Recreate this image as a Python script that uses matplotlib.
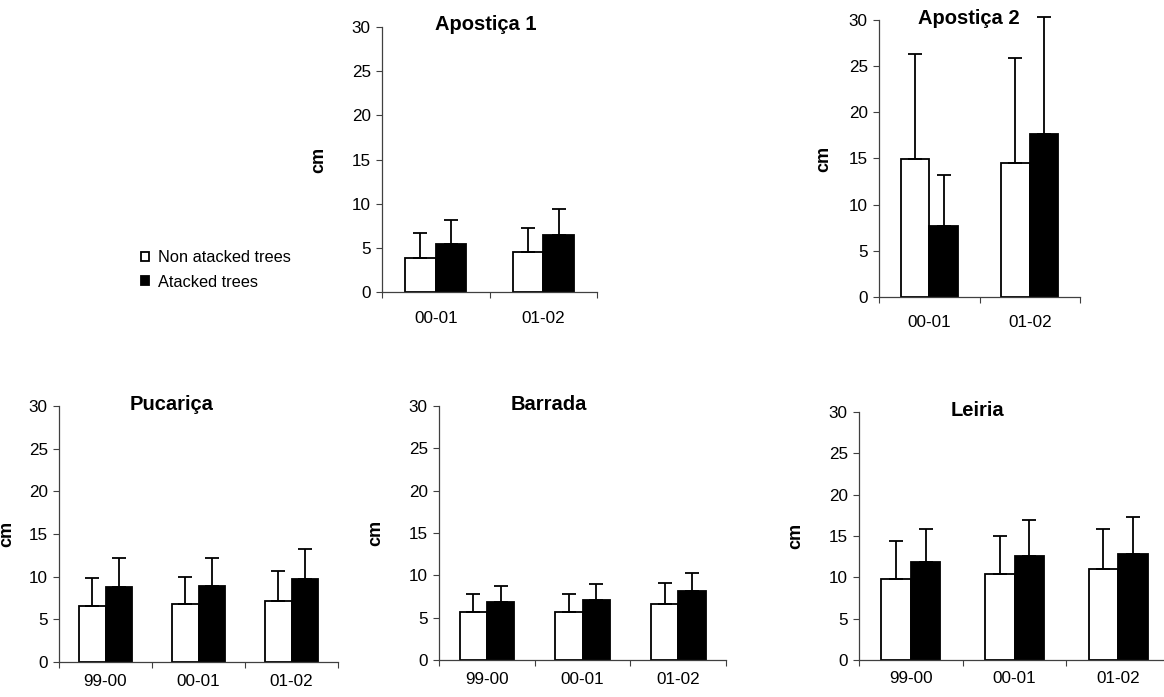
import matplotlib
matplotlib.use('Agg')
import matplotlib.pyplot as plt

plt.rcParams['font.family'] = ['Liberation Sans', 'DejaVu Sans']

W, H = 1164, 697

# periods
periods2 = ['00-01', '01-02']
periods3 = ['99-00', '00-01', '01-02']

# mean height growth (cm) and upper error (SD)
apostica1_non = [3.9, 4.5]
apostica1_non_err = [2.8, 2.7]
apostica1_atk = [5.4, 6.5]
apostica1_atk_err = [2.7, 2.9]

apostica2_non = [14.9, 14.5]
apostica2_non_err = [11.4, 11.4]
apostica2_atk = [7.7, 17.6]
apostica2_atk_err = [5.5, 12.7]

pucarica_non = [6.6, 6.8, 7.2]
pucarica_non_err = [3.3, 3.2, 3.5]
pucarica_atk = [8.75, 8.95, 9.7]
pucarica_atk_err = [3.4, 3.2, 3.6]

barrada_non = [5.7, 5.7, 6.65]
barrada_non_err = [2.1, 2.1, 2.5]
barrada_atk = [6.85, 7.05, 8.2]
barrada_atk_err = [1.9, 1.9, 2.1]

leiria_non = [9.8, 10.4, 11.0]
leiria_non_err = [4.55, 4.55, 4.9]
leiria_atk = [11.8, 12.6, 12.8]
leiria_atk_err = [4.1, 4.3, 4.55]

panels = [
    ('Apostiça 1', periods2, apostica1_non, apostica1_non_err, apostica1_atk, apostica1_atk_err),
    ('Apostiça 2', periods2, apostica2_non, apostica2_non_err, apostica2_atk, apostica2_atk_err),
    ('Pucariça', periods3, pucarica_non, pucarica_non_err, pucarica_atk, pucarica_atk_err),
    ('Barrada', periods3, barrada_non, barrada_non_err, barrada_atk, barrada_atk_err),
    ('Leiria', periods3, leiria_non, leiria_non_err, leiria_atk, leiria_atk_err),
]

# layout in pixels: left, right, top, bottom, title x, ylabel offset, xtick pad
layout = [
    (382, 597, 27, 292, 486, 55, 14),
    (879, 1080, 20, 297, 969, 47, 13),
    (59, 338, 406, 662, 172, 44, 9),
    (439, 726, 406, 660, 549, 55, 9),
    (859, 1170, 412, 660, 977, 55, 8),
]

FS = 12.3
bw = 1 / 3.5

fig = plt.figure(figsize=(W / 100, H / 100), dpi=100)

legend_bars = None
for (title, cats, non, non_err, atk, atk_err), (l, r, t, b, tx, yoff, xpad) in zip(panels, layout):
    ax = fig.add_axes([l / W, 1 - b / H, (r - l) / W, (b - t) / H])
    n = len(cats)
    centers = [i + 0.5 for i in range(n)]
    x_non = [c - bw / 2 for c in centers]
    x_atk = [c + bw / 2 for c in centers]
    b1 = ax.bar(x_non, non, width=bw, color='white', edgecolor='black', linewidth=1.3, zorder=2)
    b2 = ax.bar(x_atk, atk, width=bw, color='black', edgecolor='black', linewidth=1.3, zorder=2)
    if legend_bars is None:
        legend_bars = (b1, b2)
    for xs, ys, es in ((x_non, non, non_err), (x_atk, atk, atk_err)):
        eb = ax.errorbar(xs, ys, yerr=[[0] * n, es], fmt='none', ecolor='black',
                         elinewidth=1.3, capsize=4.7, capthick=1.3, zorder=3)
        for a in eb.lines[1]:
            a.set_clip_on(False)
        for a in eb.lines[2]:
            a.set_clip_on(False)

    ax.set_xlim(0, n)
    ax.set_ylim(0, 30)
    ax.set_yticks(range(0, 31, 5))
    ax.set_xticks(range(0, n + 1))
    ax.set_xticklabels([])
    ax.set_xticks(centers, minor=True)
    ax.set_xticklabels(cats, minor=True)
    ax.tick_params(axis='x', which='major', direction='out', length=4, width=0.8, color='#404040')
    ax.tick_params(axis='x', which='minor', length=0, pad=xpad, labelsize=FS)
    ax.tick_params(axis='y', direction='out', length=4, width=0.8, color='#404040', pad=4, labelsize=FS)
    for s in ('top', 'right'):
        ax.spines[s].set_visible(False)
    for s in ('left', 'bottom'):
        ax.spines[s].set_color('#404040')
        ax.spines[s].set_linewidth(0.9)
    ax.set_ylabel('cm', fontsize=13, fontweight='bold')
    ax.yaxis.set_label_coords(-yoff / (r - l), 0.5)
    fig.text(tx / W, 1 - (t - 2) / H, title, ha='center', va='center',
             fontsize=14.5, fontweight='bold')

fig.legend(legend_bars, ['Non atacked trees', 'Atacked trees'], loc='center left',
           bbox_to_anchor=(141 / W, 1 - 270 / H), frameon=False, fontsize=11.8,
           handlelength=0.5, handleheight=0.5, handletextpad=0.55,
           labelspacing=0.55, borderpad=0, borderaxespad=0)

fig.savefig('out.png', dpi=100)
